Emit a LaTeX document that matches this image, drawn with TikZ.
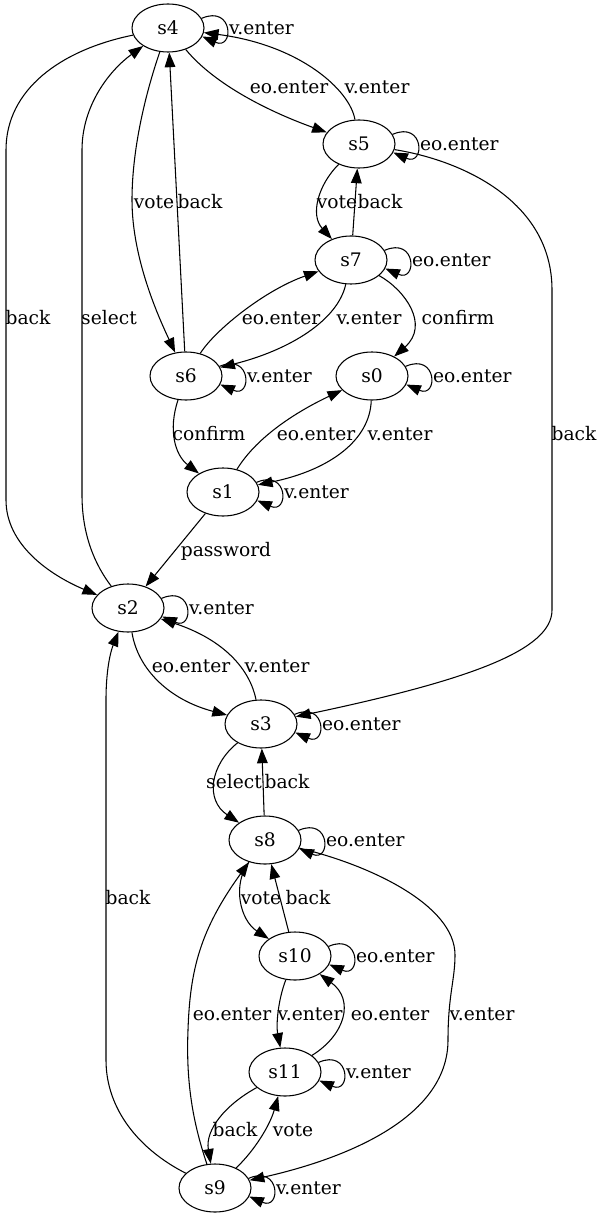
\documentclass[tikz,border=0pt]{standalone}
\usepackage{fontspec}
\setmainfont{DejaVu Serif}
\usetikzlibrary{shapes}
\usetikzlibrary{positioning}
\usetikzlibrary{arrows.meta}
\tikzset{
    mystate/.style = {ellipse, draw=black, line width=0.8pt, minimum width=54pt, minimum height=36pt, inner sep=0pt, font=\fontsize{14pt}{16pt}\selectfont},
    edget/.style = {-{Triangle[length=11pt,width=8pt]}, line width=0.8pt, black},
    mylabel/.style = {inner sep=0pt, text height=12pt, text depth=2pt, font=\fontsize{14pt}{16pt}\selectfont},
    looplabel/.style = {mylabel, anchor=west, xshift=18pt}, % right of a self loop
}

\begin{document}
\begin{tikzpicture}[x=0.75pt,y=-0.75pt]
\node[mystate] at (168, 28) (s4) {s4};
\node[mystate] at (359, 144) (s5) {s5};
\node[mystate] at (351, 260) (s7) {s7};
\node[mystate] at (186, 376) (s6) {s6};
\node[mystate] at (372, 376) (s0) {s0};
\node[mystate] at (223, 492) (s1) {s1};
\node[mystate] at (128, 608) (s2) {s2};
\node[mystate] at (261, 724) (s3) {s3};
\node[mystate] at (265, 840) (s8) {s8};
\node[mystate] at (295, 956) (s10) {s10};
\node[mystate] at (285, 1072) (s11) {s11};
\node[mystate] at (215, 1188) (s9) {s9};
%
\foreach \n/\t in {s4/v.enter, s5/eo.enter, s7/eo.enter, s6/v.enter, s0/eo.enter, s1/v.enter, s2/v.enter, s3/eo.enter, s8/eo.enter, s10/eo.enter, s11/v.enter, s9/v.enter}
    \draw[edget] (\n.16) .. controls +(32,-14) and +(32,14) .. (\n.-14) node[looplabel] at (\n.east) {\t};
%
\draw[edget] (s4) .. controls (215,85) and (270,112) .. (s5) node[mylabel] at (289,87) {eo.enter};
\draw[edget] (s5) .. controls (350,90) and (300,45) .. (s4) node[mylabel] at (377,87) {v.enter};
\draw[edget] (s4) .. controls (60,50) and (6,90) .. (6,150) -- (6,500) .. controls (6,545) and (50,575) .. (s2) node[mylabel] at (28,318) {back};
\draw[edget] (s2) .. controls (95,565) and (82,535) .. (82,495) -- (82,150) .. controls (82,105) and (110,70) .. (s4) node[mylabel] at (109,318) {select};
\draw[edget] (s4) .. controls (145,95) and (132,150) .. (132,200) .. controls (132,260) and (160,320) .. (s6) node[mylabel] at (154,202) {vote};
\draw[edget] (s6) -- (s4) node[mylabel] at (200,202) {back};
\draw[edget] (s5) .. controls (318,185) and (310,215) .. (s7) node[mylabel] at (337,202) {vote};
\draw[edget] (s7) -- (s5) node[mylabel] at (380,202) {back};
\draw[edget] (s6) .. controls (215,330) and (265,290) .. (s7) node[mylabel] at (281,318) {eo.enter};
\draw[edget] (s7) .. controls (338,320) and (290,350) .. (s6) node[mylabel] at (369,318) {v.enter};
\draw[edget] (s7) .. controls (405,290) and (430,325) .. (s0) node[mylabel] at (458,318) {confirm};
\draw[edget] (s6) .. controls (168,430) and (175,455) .. (s1) node[mylabel] at (209,434) {confirm};
\draw[edget] (s1) .. controls (258,435) and (300,410) .. (s0) node[mylabel] at (316,434) {eo.enter};
\draw[edget] (s0) .. controls (370,440) and (330,470) .. (s1) node[mylabel] at (400,434) {v.enter};
\draw[edget] (s1) -- (s2) node[mylabel] at (226,550) {password};
\draw[edget] (s5) .. controls (460,160) and (552,200) .. (552,290) -- (552,610) .. controls (552,650) and (470,680) .. (s3) node[mylabel] at (574,434) {back};
\draw[edget] (s2) .. controls (138,670) and (170,700) .. (s3) node[mylabel] at (191,666) {eo.enter};
\draw[edget] (s3) .. controls (250,670) and (225,640) .. (s2) node[mylabel] at (277,666) {v.enter};
\draw[edget] (s3) .. controls (210,765) and (205,800) .. (s8) node[mylabel] at (234,782) {select};
\draw[edget] (s8) -- (s3) node[mylabel] at (287,782) {back};
\draw[edget] (s9) .. controls (140,1150) and (106,1110) .. (106,1060) -- (106,700) .. controls (106,665) and (112,648) .. (s2) node[mylabel] at (128,898) {back};
\draw[edget] (s8) .. controls (232,885) and (240,920) .. (s10) node[mylabel] at (261,898) {vote};
\draw[edget] (s10) -- (s8) node[mylabel] at (308,898) {back};
\draw[edget] (s9) .. controls (192,1120) and (186,1080) .. (188,1030) .. controls (190,970) and (200,930) .. (s8) node[mylabel] at (232,1014) {eo.enter};
\draw[edget] (s8) .. controls (370,865) and (455,905) .. (455,955) .. controls (455,980) and (448,995) .. (448,1040) .. controls (448,1120) and (340,1160) .. (s9) node[mylabel] at (482,1014) {v.enter};
\draw[edget] (s10) .. controls (278,1000) and (276,1025) .. (s11) node[mylabel] at (310,1014) {v.enter};
\draw[edget] (s11) .. controls (345,1035) and (355,1000) .. (s10) node[mylabel] at (390,1014) {eo.enter};
\draw[edget] (s11) .. controls (225,1105) and (205,1130) .. (s9) node[mylabel] at (235,1130) {back};
\draw[edget] (s9) .. controls (255,1150) and (270,1125) .. (s11) node[mylabel] at (293,1130) {vote};

\path[use as bounding box] (0,0) rectangle (600,1219);
\end{tikzpicture}
\end{document}
